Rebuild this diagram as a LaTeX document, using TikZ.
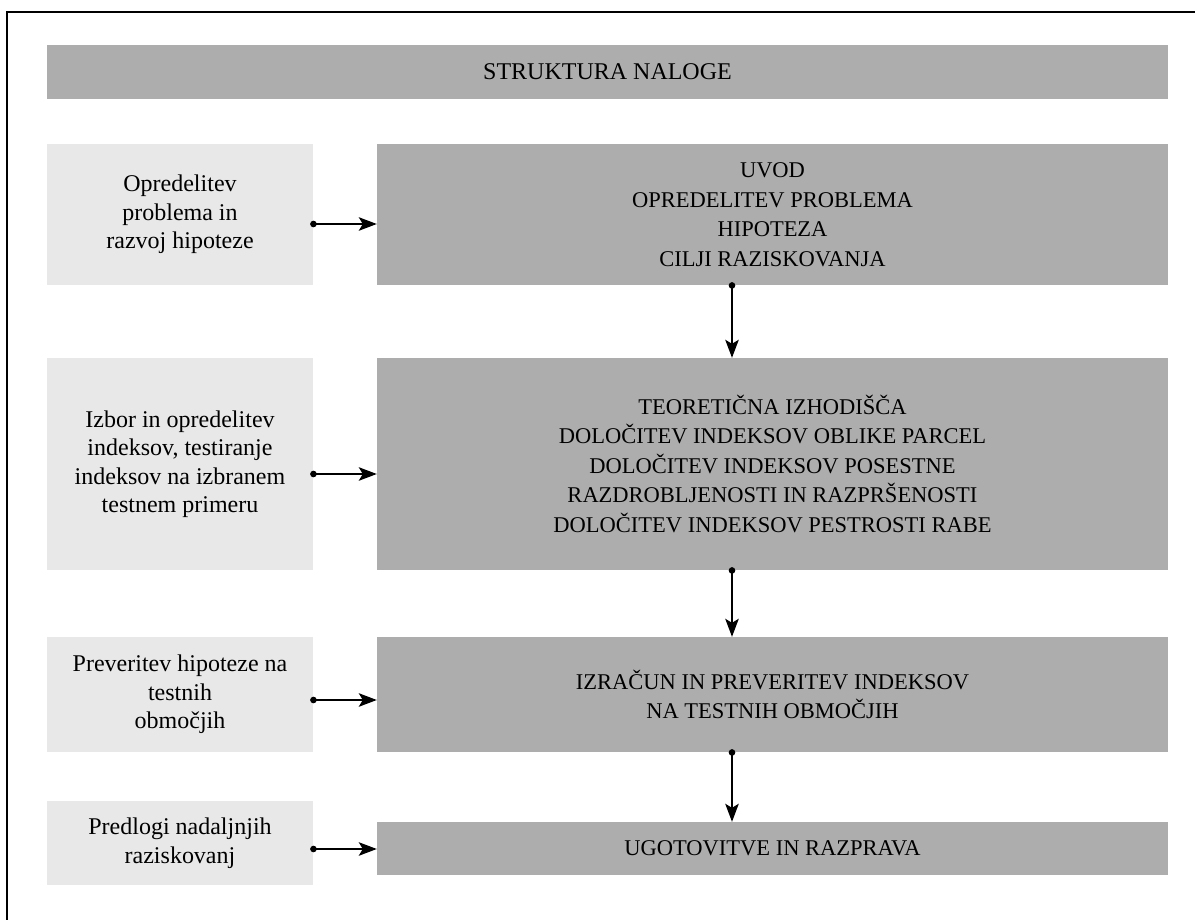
\documentclass[tikz,border=0pt]{standalone}
\usepackage{fontspec}
\setmainfont{Liberation Serif}
\usepackage{tikz}
\usetikzlibrary{arrows.meta}
\definecolor{darkbox}{HTML}{ADADAD}
\definecolor{lightbox}{HTML}{E8E8E8}
\tikzset{
  stepbox/.style={fill=darkbox, align=center, inner sep=0pt, font=\fontsize{22.5}{29.5}\selectfont},
  sidebox/.style={fill=lightbox, align=center, inner sep=0pt, minimum width=266pt, font=\fontsize{24}{28.5}\selectfont},
  link/.style={line width=1.5pt, {Circle[length=6.5pt]}-{Stealth[length=18pt,width=13.5pt,inset=4pt]}, shorten <=-3pt}
}
\begin{document}
\begin{tikzpicture}[x=1pt,y=-1pt]
\useasboundingbox (0,0) rectangle (1195,920);
\clip (0,0) rectangle (1195,920);
\draw[line width=2pt] (7,12) rectangle (1210,935);
\node[stepbox, minimum width=1121pt, minimum height=54pt, font=\fontsize{24}{29.5}\selectfont] (title) at (607.5,72) {STRUKTURA NALOGE};
\node[sidebox, minimum height=141pt] (l1) at (180,214.5) {Opredelitev\\problema in\\razvoj hipoteze};
\node[stepbox, minimum width=791pt, minimum height=141pt] (r1) at (772.5,214.5)
  {UVOD\\OPREDELITEV PROBLEMA\\HIPOTEZA\\CILJI RAZISKOVANJA};
\node[sidebox, minimum height=212pt] (l2) at (180,464) {Izbor in opredelitev\\indeksov, testiranje\\indeksov na izbranem\\testnem primeru};
\node[stepbox, minimum width=791pt, minimum height=212pt] (r2) at (772.5,464)
  {TEORETIČNA IZHODIŠČA\\DOLOČITEV INDEKSOV OBLIKE PARCEL\\DOLOČITEV INDEKSOV POSESTNE\\RAZDROBLJENOSTI IN RAZPRŠENOSTI\\DOLOČITEV INDEKSOV PESTROSTI RABE};
\node[sidebox, minimum height=115pt] (l3) at (180,694.5) {Preveritev hipoteze na\\testnih\\območjih};
\node[stepbox, minimum width=791pt, minimum height=115pt] (r3) at (772.5,694.5)
  {IZRAČUN IN PREVERITEV INDEKSOV\\NA TESTNIH OBMOČJIH};
\node[sidebox, minimum height=84pt] (l4) at (180,843) {Predlogi nadaljnjih\\raziskovanj};
\node[stepbox, minimum width=791pt, minimum height=53pt] (r4) at (772.5,848.5) {UGOTOVITVE IN RAZPRAVA};
\draw[link] ([yshift=-9.5pt]l1.east) -- ([yshift=-9.5pt]r1.west);
\draw[link] ([yshift=-10pt]l2.east) -- ([yshift=-10pt]r2.west);
\draw[link] ([yshift=-5.5pt]l3.east) -- ([yshift=-5.5pt]r3.west);
\draw[link] ([yshift=-6pt]l4.east) -- ([yshift=-0.5pt]r4.west);
\draw[link] ([xshift=-40.5pt]r1.south) -- ([xshift=-40.5pt]r2.north);
\draw[link] ([xshift=-40.5pt]r2.south) -- ([xshift=-40.5pt]r3.north);
\draw[link] ([xshift=-40.5pt]r3.south) -- ([xshift=-40.5pt]r4.north);
\end{tikzpicture}
\end{document}
